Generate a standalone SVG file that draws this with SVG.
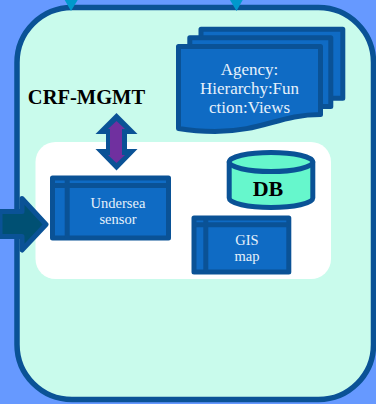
<svg xmlns="http://www.w3.org/2000/svg" width="376" height="404" viewBox="0 0 376 404">
<style>
.ln{stroke:#0a5296;stroke-width:5;stroke-linejoin:round}
.box{fill:#0f6bc4}
.lbl{font-family:"Liberation Serif",serif;fill:#e6f1fb;text-anchor:middle}
.bold{font-family:"Liberation Serif",serif;font-weight:bold;fill:#000;text-anchor:middle}
</style>
<rect width="376" height="404" fill="#6699ff"/>
<g id="panel"><rect x="17" y="7.500" width="356.500" height="392" rx="55" ry="55" fill="#c9fbec" stroke="#0a5296" stroke-width="5.500"/></g>
<rect id="inner-area" x="35.500" y="142" width="295.500" height="137" rx="20" ry="20" fill="#fff"/>
<g id="port-top-left"><path d="M64.700 0H77.700L71 11Z" fill="#0099cc"/></g>
<g id="port-top-right"><path d="M230 0H242.700L236.500 11Z" fill="#0099cc"/></g>
<g id="agency">
<path class="ln box" d="M201 29.200H342.800V98.200H201Z"/>
<path class="ln box" d="M189.800 37.800H330.800V106.500H189.800Z"/>
<path class="ln box" d="M178.500 46.500H320.500V114.500C280 114.500 262 131.500 215 131.500C200 131.500 190 130.500 178.500 128.500Z"/>
<text class="lbl" font-size="17"><tspan x="249.500" y="74.500">Agency:</tspan><tspan x="249.500" y="93.500">Hierarchy:Fun</tspan><tspan x="249.500" y="112.500">ction:Views</tspan></text>
</g>
<g id="crf-mgmt">
<text class="bold" x="86.500" y="104" font-size="20.500">CRF-MGMT</text>
<path d="M116.500 113L137.500 134H127V149H137.500L116.500 170.500L95.500 149H106V134H95.500Z" fill="#0a5296"/>
<path d="M116.500 121L125 129H122V155H125L116.500 163L108 155H110V129H108Z" fill="#70309f"/>
</g>
<g id="undersea-sensor">
<rect class="ln box" x="52.500" y="178" width="116" height="60"/>
<path class="ln" d="M52.500 185.500H168.500M67.200 178V238" fill="none"/>
<text class="lbl" font-size="14.500"><tspan x="118" y="208">Undersea</tspan><tspan x="118" y="224">sensor</tspan></text>
</g>
<g id="gis-map">
<rect class="ln box" x="194" y="218" width="94.800" height="54"/>
<path class="ln" d="M194 224.800H288.800M205.800 218V272" fill="none"/>
<text class="lbl" font-size="14.500"><tspan x="247" y="245">GIS</tspan><tspan x="247" y="261">map</tspan></text>
</g>
<g id="db">
<path class="ln" d="M229.200 162V198C229.200 203.500 248 207.500 271 207.500S312.800 203.500 312.800 198V162Z" fill="#66f7cc"/>
<ellipse class="ln" cx="271" cy="162" rx="41.800" ry="9.500" fill="#66f7cc"/>
<text class="bold" x="268" y="196" font-size="22">DB</text>
</g>
<g id="connectors">
<path class="ln" d="M0 211.500H22V198.500L46 224.500L22 250V236.500H0Z" fill="#005073"/>
</g>
</svg>
